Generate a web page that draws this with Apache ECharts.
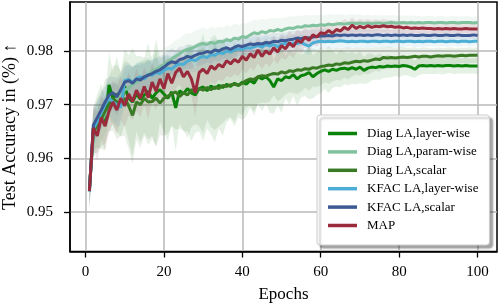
<!DOCTYPE html>
<html>
<head>
<meta charset="utf-8">
<script src="https://cdn.jsdelivr.net/npm/echarts@6/dist/echarts.min.js"></script>
<style>html,body{margin:0;padding:0;background:#fff}#c{width:499px;height:305px}</style>
</head>
<body>
<div id="c"></div>
<script>
var seriesNames = ['Diag LA,layer-wise','Diag LA,param-wise','Diag LA,scalar','KFAC LA,layer-wise','KFAC LA,scalar','MAP'];
var xTicks = [0,20,40,60,80,100];
var yTicks = [0.95,0.96,0.97,0.98];

var diagLayer = [
.9540,.9655,.9670,.9678,.9665,.9737,.9712,.9720,.9700,.9734,
.9712,.9705,.9720,.9710,.9718,.9725,.9712,.9722,.9728,.9720,
.9712,.9724,.9694,.9726,.9720,.9730,.9722,.9718,.9730,.9733,
.9726,.9735,.9730,.9736,.9732,.9738,.9734,.9740,.9736,.9742,
.9738,.9745,.9740,.9752,.9748,.9752,.9745,.9733,.9748,.9745,
.9752,.9750,.9756,.9748,.9754,.9756,.9760,.9752,.9758,.9762,
.9765,.9762,.9766,.9764,.9767,.9768,.9766,.9769,.9766,.9770,
.9764,.9768,.9770,.9769,.9771,.9770,.9772,.9771,.9772,.9771,
.9773,.9772,.9770,.9766,.9772,.9773,.9772,.9773,.9772,.9773,
.9772,.9773,.9773,.9772,.9773,.9772,.9773,.9772,.9772,.9772];
var diagParam = [
.9545,.9640,.9655,.9668,.9682,.9690,.9702,.9708,.9716,.9728,
.9730,.9738,.9742,.9748,.9752,.9756,.9762,.9766,.9770,.9775,
.9779,.9786,.9790,.9795,.9800,.9803,.9805,.9808,.9812,.9814,
.9812,.9816,.9814,.9818,.9817,.9821,.9819,.9824,.9822,.9827,
.9825,.9830,.9834,.9832,.9836,.9834,.9838,.9837,.9840,.9838,
.9841,.9843,.9842,.9845,.9844,.9847,.9846,.9848,.9847,.9849,
.9848,.9850,.9849,.9850,.9851,.9850,.9851,.9852,.9851,.9852,
.9851,.9852,.9851,.9852,.9852,.9851,.9852,.9853,.9852,.9852,
.9853,.9852,.9853,.9852,.9853,.9852,.9853,.9853,.9852,.9853,
.9853,.9852,.9853,.9853,.9852,.9853,.9853,.9853,.9852,.9853];
var diagScalar = [
.9545,.9650,.9660,.9672,.9688,.9700,.9712,.9705,.9702,.9712,
.9698,.9680,.9705,.9700,.9712,.9705,.9706,.9712,.9703,.9712,
.9716,.9720,.9724,.9715,.9722,.9718,.9728,.9724,.9730,.9727,
.9732,.9728,.9733,.9730,.9736,.9734,.9737,.9738,.9736,.9740,
.9745,.9748,.9747,.9752,.9754,.9753,.9756,.9758,.9757,.9761,
.9759,.9763,.9762,.9765,.9764,.9767,.9766,.9769,.9768,.9771,
.9772,.9774,.9773,.9776,.9775,.9778,.9777,.9779,.9781,.9780,
.9782,.9781,.9783,.9785,.9784,.9788,.9787,.9788,.9787,.9788,
.9789,.9788,.9789,.9790,.9789,.9790,.9790,.9789,.9790,.9791,
.9790,.9791,.9791,.9790,.9791,.9792,.9791,.9792,.9792,.9792];
var kfacLayer = [
.9538,.9655,.9668,.9685,.9700,.9712,.9705,.9700,.9695,.9745,
.9747,.9742,.9748,.9752,.9748,.9756,.9755,.9760,.9758,.9764,
.9768,.9766,.9773,.9776,.9775,.9781,.9784,.9782,.9787,.9790,
.9788,.9793,.9792,.9797,.9795,.9800,.9798,.9802,.9804,.9803,
.9806,.9805,.9808,.9810,.9807,.9812,.9809,.9812,.9808,.9813,
.9814,.9812,.9815,.9814,.9816,.9812,.9809,.9815,.9817,.9818,
.9817,.9818,.9817,.9818,.9819,.9818,.9817,.9818,.9817,.9818,
.9818,.9817,.9818,.9818,.9817,.9818,.9818,.9817,.9818,.9818,
.9817,.9818,.9818,.9817,.9818,.9817,.9818,.9818,.9817,.9818,
.9818,.9817,.9818,.9818,.9817,.9818,.9818,.9817,.9818,.9818];
var kfacScalar = [
.9540,.9662,.9676,.9690,.9705,.9718,.9722,.9715,.9728,.9742,
.9745,.9740,.9748,.9746,.9752,.9755,.9758,.9762,.9765,.9770,
.9776,.9780,.9778,.9784,.9786,.9790,.9788,.9792,.9795,.9796,
.9799,.9797,.9802,.9800,.9804,.9806,.9803,.9807,.9810,.9808,
.9811,.9813,.9812,.9814,.9813,.9816,.9815,.9818,.9817,.9820,
.9819,.9821,.9822,.9824,.9823,.9825,.9824,.9826,.9827,.9828,
.9828,.9829,.9828,.9830,.9829,.9830,.9829,.9830,.9829,.9830,
.9829,.9830,.9829,.9830,.9830,.9829,.9830,.9829,.9830,.9829,
.9830,.9829,.9830,.9829,.9829,.9830,.9829,.9829,.9830,.9829,
.9829,.9830,.9829,.9829,.9830,.9829,.9829,.9829,.9830,.9829];
var mapAcc = [
.9539,.9657,.9642,.9676,.9660,.9688,.9705,.9690,.9712,.9698,
.9720,.9706,.9727,.9712,.9734,.9713,.9742,.9725,.9748,.9730,
.9758,.9740,.9760,.9768,.9752,.9762,.9748,.9722,.9760,.9766,
.9758,.9772,.9766,.9775,.9770,.9782,.9776,.9784,.9779,.9790,
.9783,.9795,.9788,.9802,.9790,.9800,.9794,.9806,.9798,.9810,
.9804,.9815,.9808,.9820,.9816,.9826,.9820,.9830,.9826,.9834,
.9832,.9838,.9833,.9840,.9837,.9844,.9840,.9848,.9842,.9846,
.9843,.9847,.9844,.9846,.9845,.9847,.9845,.9846,.9844,.9845,
.9843,.9844,.9842,.9843,.9842,.9843,.9842,.9842,.9841,.9842,
.9841,.9842,.9841,.9842,.9841,.9841,.9842,.9841,.9841,.9841];

var sDiagLayer = [
.003,.004,.005,.006,.005,.006,.005,.007,.006,.007,
.008,.010,.007,.008,.007,.009,.007,.010,.006,.007,
.008,.006,.008,.006,.007,.008,.009,.007,.008,.010,
.007,.009,.010,.008,.009,.007,.006,.008,.006,.007,
.006,.005,.006,.005,.006,.005,.006,.005,.005,.006,
.004,.005,.004,.005,.004,.004,.005,.004,.004,.004,
.0035,.004,.0035,.003,.0035,.003,.003,.003,.0028,.003,
.0025,.0028,.0025,.0022,.0025,.002,.0022,.002,.0018,.002,
.0018,.0017,.0018,.0016,.0017,.0016,.0015,.0016,.0015,.0015,
.0016,.0015,.0014,.0015,.0015,.0014,.0015,.0014,.0014,.0015];
var sDiagParam = [
.004,.004,.004,.004,.0035,.004,.0035,.004,.0035,.0035,
.0035,.003,.0035,.003,.0035,.003,.003,.0035,.003,.003,
.003,.0028,.003,.0028,.003,.003,.0028,.003,.0028,.003,
.0028,.003,.0028,.0028,.0026,.0028,.0026,.0028,.0026,.0025,
.0026,.0025,.0024,.0025,.0024,.0024,.0023,.0024,.0022,.0023,
.0022,.0021,.0022,.0021,.002,.0021,.002,.0019,.002,.0019,
.0018,.0019,.0018,.0018,.0017,.0017,.0016,.0017,.0016,.0016,
.0015,.0016,.0015,.0015,.0014,.0015,.0014,.0014,.0014,.0013,
.0013,.0014,.0013,.0013,.0013,.0012,.0013,.0012,.0012,.0012,
.0012,.0012,.0011,.0012,.0012,.0011,.0012,.0011,.0011,.0012];
var sDiagScalar = [
.003,.004,.005,.005,.006,.005,.006,.007,.006,.007,
.008,.009,.007,.008,.007,.008,.007,.009,.006,.007,
.007,.006,.007,.006,.007,.008,.007,.006,.007,.008,
.006,.007,.008,.007,.007,.006,.006,.007,.005,.006,
.005,.005,.006,.005,.005,.005,.005,.004,.005,.005,
.004,.004,.004,.0045,.004,.0035,.004,.0035,.0035,.0035,
.003,.0035,.003,.003,.003,.0028,.003,.0026,.0025,.0026,
.0024,.0025,.0023,.0022,.0022,.002,.0021,.002,.0019,.002,
.0018,.0018,.0017,.0017,.0016,.0017,.0016,.0016,.0015,.0016,
.0015,.0015,.0016,.0015,.0015,.0014,.0015,.0015,.0014,.0015];
var sKfacLayer = [
.003,.003,.0035,.003,.0035,.003,.0035,.004,.0035,.003,
.003,.0028,.003,.0028,.0027,.0028,.0026,.0027,.0025,.0026,
.0025,.0024,.0025,.0024,.0023,.0024,.0023,.0022,.0023,.0022,
.0021,.0022,.0021,.002,.0021,.002,.0019,.002,.0019,.0018,
.0018,.0019,.0018,.0017,.0018,.0017,.0017,.0016,.0017,.0016,
.0016,.0015,.0016,.0015,.0015,.0016,.0017,.0015,.0014,.0014,
.0014,.0013,.0014,.0013,.0013,.0012,.0013,.0012,.0012,.0012,
.0011,.0012,.0011,.0011,.0011,.001,.0011,.001,.001,.001,
.001,.001,.0009,.001,.001,.0009,.001,.0009,.0009,.0009,
.0009,.0009,.0009,.0008,.0009,.0009,.0008,.0009,.0008,.0009];
var sKfacScalar = [
.003,.0035,.003,.0035,.003,.0035,.003,.0035,.003,.003,
.0028,.003,.0027,.0028,.0026,.0027,.0025,.0026,.0025,.0024,
.0024,.0025,.0023,.0024,.0022,.0023,.0022,.0021,.0022,.0021,
.002,.0021,.002,.002,.0019,.002,.0019,.0018,.0019,.0018,
.0018,.0017,.0018,.0017,.0017,.0016,.0017,.0016,.0016,.0015,
.0015,.0016,.0015,.0015,.0014,.0015,.0014,.0014,.0013,.0014,
.0013,.0013,.0012,.0013,.0012,.0012,.0012,.0011,.0012,.0011,
.0011,.0011,.001,.0011,.001,.001,.001,.001,.0009,.001,
.001,.0009,.0009,.001,.0009,.0009,.0009,.0009,.0008,.0009,
.0009,.0008,.0009,.0008,.0008,.0009,.0008,.0008,.0008,.0008];
var sMap = [
.004,.004,.0045,.004,.0045,.004,.004,.0045,.004,.004,
.004,.0035,.004,.0035,.0035,.004,.0035,.0035,.003,.0035,
.003,.0035,.003,.003,.0032,.003,.0032,.0045,.003,.003,
.0028,.003,.0028,.0028,.0027,.0028,.0026,.0027,.0026,.0025,
.0025,.0026,.0024,.0025,.0024,.0023,.0024,.0023,.0022,.0022,
.0021,.0022,.0021,.002,.002,.0019,.002,.0019,.0018,.0018,
.0017,.0017,.0016,.0016,.0015,.0016,.0015,.0015,.0014,.0014,
.0014,.0013,.0013,.0013,.0012,.0013,.0012,.0012,.0012,.0011,
.0011,.0011,.0011,.001,.0011,.001,.001,.001,.001,.001,
.001,.0009,.001,.0009,.001,.0009,.0009,.001,.0009,.0009];

var colors = ['#0a820a','#80c19e','#3b7a24','#4caed4','#3d5993','#9a2b3c'];
var means = [diagLayer, diagParam, diagScalar, kfacLayer, kfacScalar, mapAcc];
var spreads = [sDiagLayer, sDiagParam, sDiagScalar, sKfacLayer, sKfacScalar, sMap];

var FONT = 'Liberation Serif';
var series = [];
means.forEach(function (m, i) {
  var rows = m.map(function (v, k) { return [k + 1, v - spreads[i][k], v + spreads[i][k]]; });
  series.push({
    name: 'band' + i, type: 'custom', silent: true, z: 1, clip: true,
    data: rows, encode: { x: 0, y: [1, 2] },
    renderItem: function (params, api) {
      if (params.dataIndex !== 0) return null;
      var pts = [];
      for (var k = 0; k < rows.length; k++) pts.push(api.coord([rows[k][0], rows[k][2]]));
      for (var k2 = rows.length - 1; k2 >= 0; k2--) pts.push(api.coord([rows[k2][0], rows[k2][1]]));
      return { type: 'polygon', shape: { points: pts }, style: { fill: colors[i], opacity: 0.11 } };
    }
  });
});
means.forEach(function (m, i) {
  series.push({
    name: seriesNames[i], type: 'line', symbol: 'none', z: 3 + i,
    data: m.map(function (v, k) { return [k + 1, v]; }),
    lineStyle: { color: colors[i], width: 3 }, itemStyle: { color: colors[i] }
  });
});

var chart = echarts.init(document.getElementById('c'), null, { renderer: 'canvas' });
chart.setOption({
  animation: false,
  backgroundColor: '#fff',
  grid: { left: 70, right: 2, top: 2, bottom: 53.5, show: true, borderColor: '#000', borderWidth: 1.5, backgroundColor: 'transparent', containLabel: false, outerBoundsMode: 'none' },
  xAxis: {
    type: 'value', min: -3.95, max: 104.95,
    name: 'Epochs', nameLocation: 'middle', nameGap: 35, nameMoveOverlap: false,
    nameTextStyle: { fontFamily: FONT, fontSize: 17, color: '#000' },
    axisLine: { onZero: false, lineStyle: { color: '#000', width: 1.5 } },
    axisTick: { show: true, length: 6, lineStyle: { color: '#000', width: 1.3 }, customValues: xTicks },
    axisLabel: { customValues: xTicks, fontFamily: FONT, fontSize: 15, color: '#000', margin: 13 },
    splitLine: { show: true, lineStyle: { color: '#b9b9b9', width: 1.5 }, customValues: xTicks }
  },
  yAxis: {
    type: 'value', min: 0.94267, max: 0.98912,
    name: 'Test Accuracy in (%) ↑', nameLocation: 'middle', nameGap: 51, nameMoveOverlap: false,
    nameTextStyle: { fontFamily: FONT, fontSize: 18, color: '#000' },
    axisLine: { onZero: false, lineStyle: { color: '#000', width: 1.5 } },
    axisTick: { show: true, length: 6, lineStyle: { color: '#000', width: 1.3 }, customValues: yTicks },
    axisLabel: { customValues: yTicks, fontFamily: FONT, fontSize: 15, color: '#000', margin: 17,
      formatter: function (v) { return v.toFixed(2); } },
    splitLine: { show: true, lineStyle: { color: '#b9b9b9', width: 1.5 }, customValues: yTicks }
  },
  legend: {
    data: seriesNames, orient: 'vertical', left: 317, top: 115,
    icon: 'rect', itemWidth: 29, itemHeight: 3.5, itemGap: 5.4,
    padding: [12, 11, 13, 11],
    textStyle: { fontFamily: FONT, fontSize: 13, color: '#000', padding: [0, 0, 0, 5] },
    backgroundColor: '#fff', borderColor: '#cccccc', borderWidth: 1, borderRadius: 3,
    shadowColor: 'rgba(0,0,0,0.35)', shadowBlur: 2, shadowOffsetX: 3, shadowOffsetY: 3
  },
  series: series
});
</script>
</body>
</html>
